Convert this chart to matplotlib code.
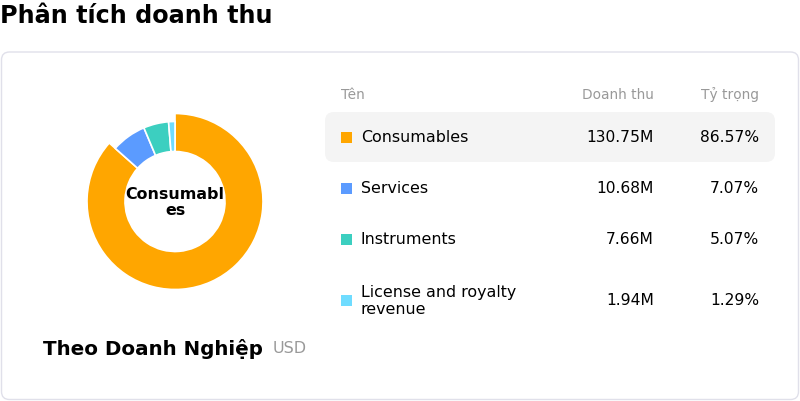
import matplotlib.pyplot as plt
from matplotlib.patches import FancyBboxPatch, Rectangle

names = ['Consumables', 'Services', 'Instruments', 'License and royalty\nrevenue']
revenue = [130.75, 10.68, 7.66, 1.94]          # million USD
share = [86.57, 7.07, 5.07, 1.29]               # percent
colors = ['#ffa600', '#5b9bff', '#3ccfc0', '#6fdcff']
headers = ['Tên', 'Doanh thu', 'Tỷ trọng']

plt.rcParams['font.family'] = ['DejaVu Sans']

fig = plt.figure(figsize=(8, 4.02), dpi=100)

# pixel-space overlay for card, texts and table
bg = fig.add_axes([0, 0, 1, 1])
bg.set_xlim(0, 800)
bg.set_ylim(402, 0)
bg.axis('off')

bg.text(0, 16, 'Phân tích doanh thu', fontsize=17.2, fontweight='bold', va='center', ha='left')

card = FancyBboxPatch((1.5, 53), 797, 347.5, boxstyle='round,pad=0,rounding_size=8',
                      fc='white', ec='#e0e0ea', lw=1)
bg.add_patch(card)

# table header
bg.text(341, 95, headers[0], fontsize=9.9, color='#999999', va='center', ha='left')
bg.text(654, 95, headers[1], fontsize=9.9, color='#999999', va='center', ha='right')
bg.text(759, 95, headers[2], fontsize=9.9, color='#999999', va='center', ha='right')

row_y = [138, 189, 240, 301]
hl = FancyBboxPatch((325, 113), 450, 50, boxstyle='round,pad=0,rounding_size=9',
                    fc='#f4f4f4', ec='none')
bg.add_patch(hl)
for i, name in enumerate(names):
    y = row_y[i]
    bg.add_patch(Rectangle((341, y - 5.5), 11, 11, fc=colors[i], ec='none'))
    bg.text(361, y, name, fontsize=11.4, va='center', ha='left', linespacing=1.1)
    bg.text(654, y, f'{revenue[i]:.2f}M', fontsize=11.2, va='center', ha='right')
    bg.text(759, y, f'{share[i]:.2f}%', fontsize=11.2, va='center', ha='right')

bg.text(43, 349, 'Theo Doanh Nghiệp', fontsize=14.3, fontweight='bold', va='center', ha='left')
bg.text(273, 349, 'USD', fontsize=11.5, color='#999999', va='center', ha='left')

# donut
pax = fig.add_axes([75 / 800, (402 - 302.5) / 402, 200 / 800, 200 / 402])
wedges, _ = pax.pie(revenue, colors=colors, startangle=90, counterclock=False,
                    radius=0.80, wedgeprops=dict(width=0.30, edgecolor='white', linewidth=1.2))
wedges[0].set_radius(0.88)
wedges[0].set_width(0.38)
pax.set_xlim(-1, 1)
pax.set_ylim(-1, 1)
pax.set_aspect('equal')
pax.axis('off')
pax.text(0, 0.0, 'Consumabl\nes', ha='center', va='center', fontsize=11.4,
         fontweight='bold', linespacing=1.05)

fig.savefig('out.png', dpi=100, facecolor='white')
